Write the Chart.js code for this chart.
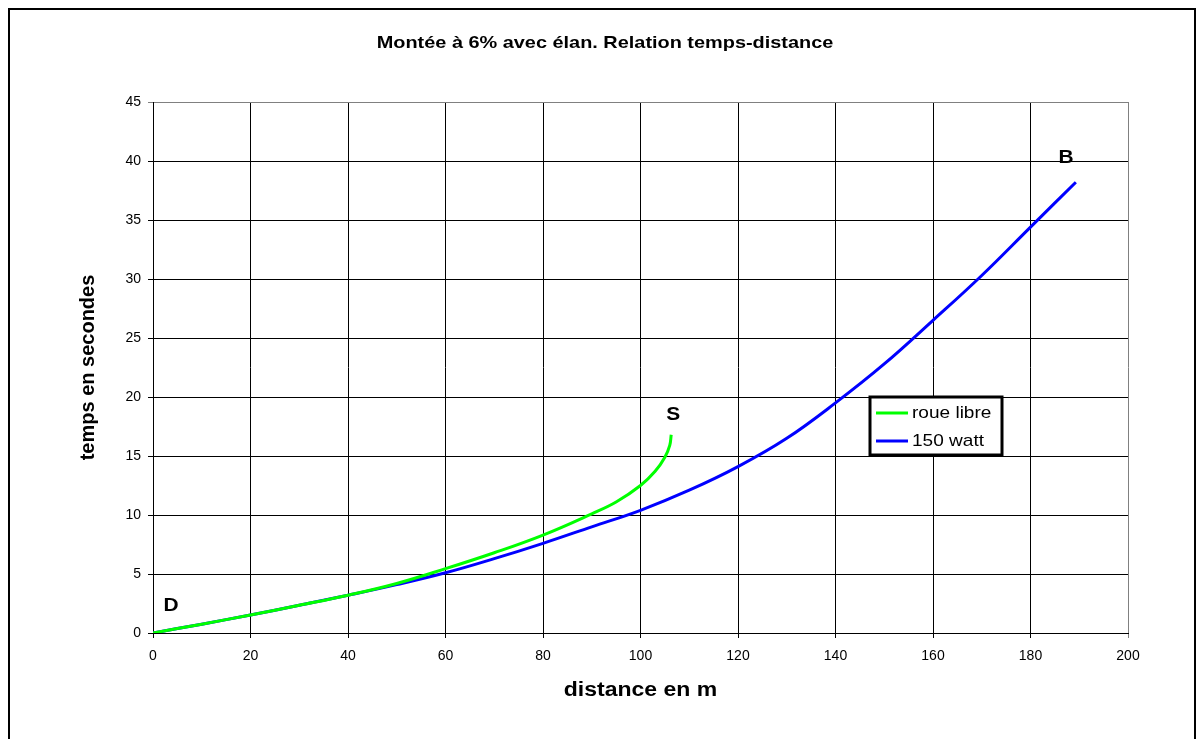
<!DOCTYPE html>
<html>
<head>
<meta charset="utf-8">
<script src="https://cdn.jsdelivr.net/npm/chart.js@4"></script>
<style>
  html, body { margin:0; padding:0; background:#fff; }
  #wrap { width:1200px; height:739px; position:relative; }
</style>
</head>
<body>
<div id="wrap"><canvas id="chart" width="1200" height="739"></canvas></div>
<script>
// données
var titre = "Montée à 6% avec élan. Relation temps-distance";
var seriesNames = ["roue libre", "150 watt"];
var seriesColors = ["#00ff00", "#0000ff"];

// roue libre (distance m, temps s)
var libreX = [0, 10, 20, 30, 40, 50, 60, 70, 80, 90, 95, 100, 103, 105, 106, 106.3];
var libreY = [0, 0.75, 1.53, 2.35, 3.2, 4.2, 5.45, 6.8, 8.3, 10.1, 11.1, 12.5, 13.7, 14.9, 15.9, 16.8];

// 150 watt
var wattX = [0, 10, 20, 30, 40, 50, 60, 70, 80, 90, 100, 110, 120, 130, 140, 150, 160, 170, 180, 189.3];
var wattY = [0, 0.75, 1.53, 2.35, 3.2, 4.1, 5.1, 6.3, 7.6, 9.0, 10.4, 12.1, 14.1, 16.5, 19.5, 22.8, 26.5, 30.3, 34.4, 38.2];

// étiquettes D, S, B (coordonnées données)
var pointLabels = ["D", "S", "B"];
var pointLabelX = [3.7, 106.7, 187.3];
var pointLabelY = [2.3, 18.5, 40.3];

var FONT = "Arial, 'Liberation Sans', sans-serif";

function toPoints(xs, ys){
    var pts = [];
    for (var i = 0; i < xs.length; i++) pts.push({x: xs[i], y: ys[i]});
    return pts;
}

// texte étiré horizontalement (le graphique d'origine est un peu élargi)
function stretchText(ctx, txt, x, y, font, sx, align){
    ctx.save();
    ctx.font = font;
    ctx.fillStyle = "#000";
    ctx.textBaseline = "middle";
    ctx.textAlign = align || "center";
    ctx.translate(x, y);
    ctx.scale(sx, 1);
    ctx.fillText(txt, 0, 0);
    ctx.restore();
}

var decorPlugin = {
    id: "decor",
    beforeDraw: function(chart){
        var ctx = chart.ctx;
        ctx.save();
        ctx.fillStyle = "#fff";
        ctx.fillRect(0, 0, chart.width, chart.height);
        ctx.strokeStyle = "#000";
        ctx.lineWidth = 2;
        ctx.beginPath();
        ctx.moveTo(9, 760);
        ctx.lineTo(9, 9);
        ctx.lineTo(1195, 9);
        ctx.lineTo(1195, 760);
        ctx.stroke();
        ctx.restore();
    },
    afterDraw: function(chart){
        var ctx = chart.ctx;
        var xs = chart.scales.x, ys = chart.scales.y;
        var ca = chart.chartArea;

        // titre
        stretchText(ctx, titre, 605, 43, "bold 17px " + FONT, 1.17);
        // titre axe x
        stretchText(ctx, "distance en m", (ca.left + ca.right) / 2, 690, "bold 20px " + FONT, 1.15);

        // D, S, B
        for (var i = 0; i < pointLabels.length; i++) {
            stretchText(ctx, pointLabels[i], xs.getPixelForValue(pointLabelX[i]),
                ys.getPixelForValue(pointLabelY[i]), "bold 19px " + FONT, 1.1);
        }

        // légende
        var lg = {x: 870, y: 397, w: 132, h: 58};
        ctx.save();
        ctx.fillStyle = "#fff";
        ctx.fillRect(lg.x, lg.y, lg.w, lg.h);
        ctx.strokeStyle = "#000";
        ctx.lineWidth = 3;
        ctx.strokeRect(lg.x, lg.y, lg.w, lg.h);
        var rows = [413, 441];
        for (var j = 0; j < seriesNames.length; j++) {
            ctx.strokeStyle = seriesColors[j];
            ctx.lineWidth = 3;
            ctx.beginPath();
            ctx.moveTo(876, rows[j]);
            ctx.lineTo(908, rows[j]);
            ctx.stroke();
            stretchText(ctx, seriesNames[j], 912, rows[j], "17px " + FONT, 1.12, "left");
        }
        ctx.restore();
    }
};

window.onload = function () {
    var ctx = document.getElementById("chart").getContext("2d");
    window.myChart = new Chart(ctx, {
        type: "scatter",
        data: {
            datasets: [{
                label: seriesNames[0],
                data: toPoints(libreX, libreY),
                showLine: true,
                borderColor: seriesColors[0],
                borderWidth: 3,
                pointRadius: 0,
                tension: 0.4
            }, {
                label: seriesNames[1],
                data: toPoints(wattX, wattY),
                showLine: true,
                borderColor: seriesColors[1],
                borderWidth: 3,
                pointRadius: 0,
                tension: 0.4
            }]
        },
        options: {
            responsive: false,
            animation: false,
            layout: { padding: { top: 102, right: 72, left: 0, bottom: 0 } },
            plugins: {
                legend: { display: false },
                title: { display: false },
                tooltip: { enabled: false }
            },
            scales: {
                x: {
                    type: "linear",
                    min: 0, max: 200,
                    afterFit: function(s){ s.height = 106; },
                    ticks: { stepSize: 20, color: "#000", padding: 10, font: { family: FONT, size: 14 } },
                    grid: {
                        color: function(c){ return c.tick && c.tick.value === 200 ? "#808080" : "#000"; },
                        lineWidth: 1,
                        tickLength: 5
                    },
                    border: { color: "#000", width: 1 }
                },
                y: {
                    type: "linear",
                    min: 0, max: 45,
                    afterFit: function(s){ s.width = 153; },
                    ticks: { stepSize: 5, color: "#000", padding: 7, font: { family: FONT, size: 14 } },
                    grid: {
                        color: function(c){ return c.tick && c.tick.value === 45 ? "#808080" : "#000"; },
                        lineWidth: 1,
                        tickLength: 5
                    },
                    border: { color: "#000", width: 1 },
                    title: {
                        display: true,
                        text: "temps en secondes",
                        color: "#000",
                        font: { family: FONT, size: 20, weight: "bold" },
                        padding: { top: 76 }
                    }
                }
            }
        },
        plugins: [decorPlugin]
    });
};
</script>
</body>
</html>
